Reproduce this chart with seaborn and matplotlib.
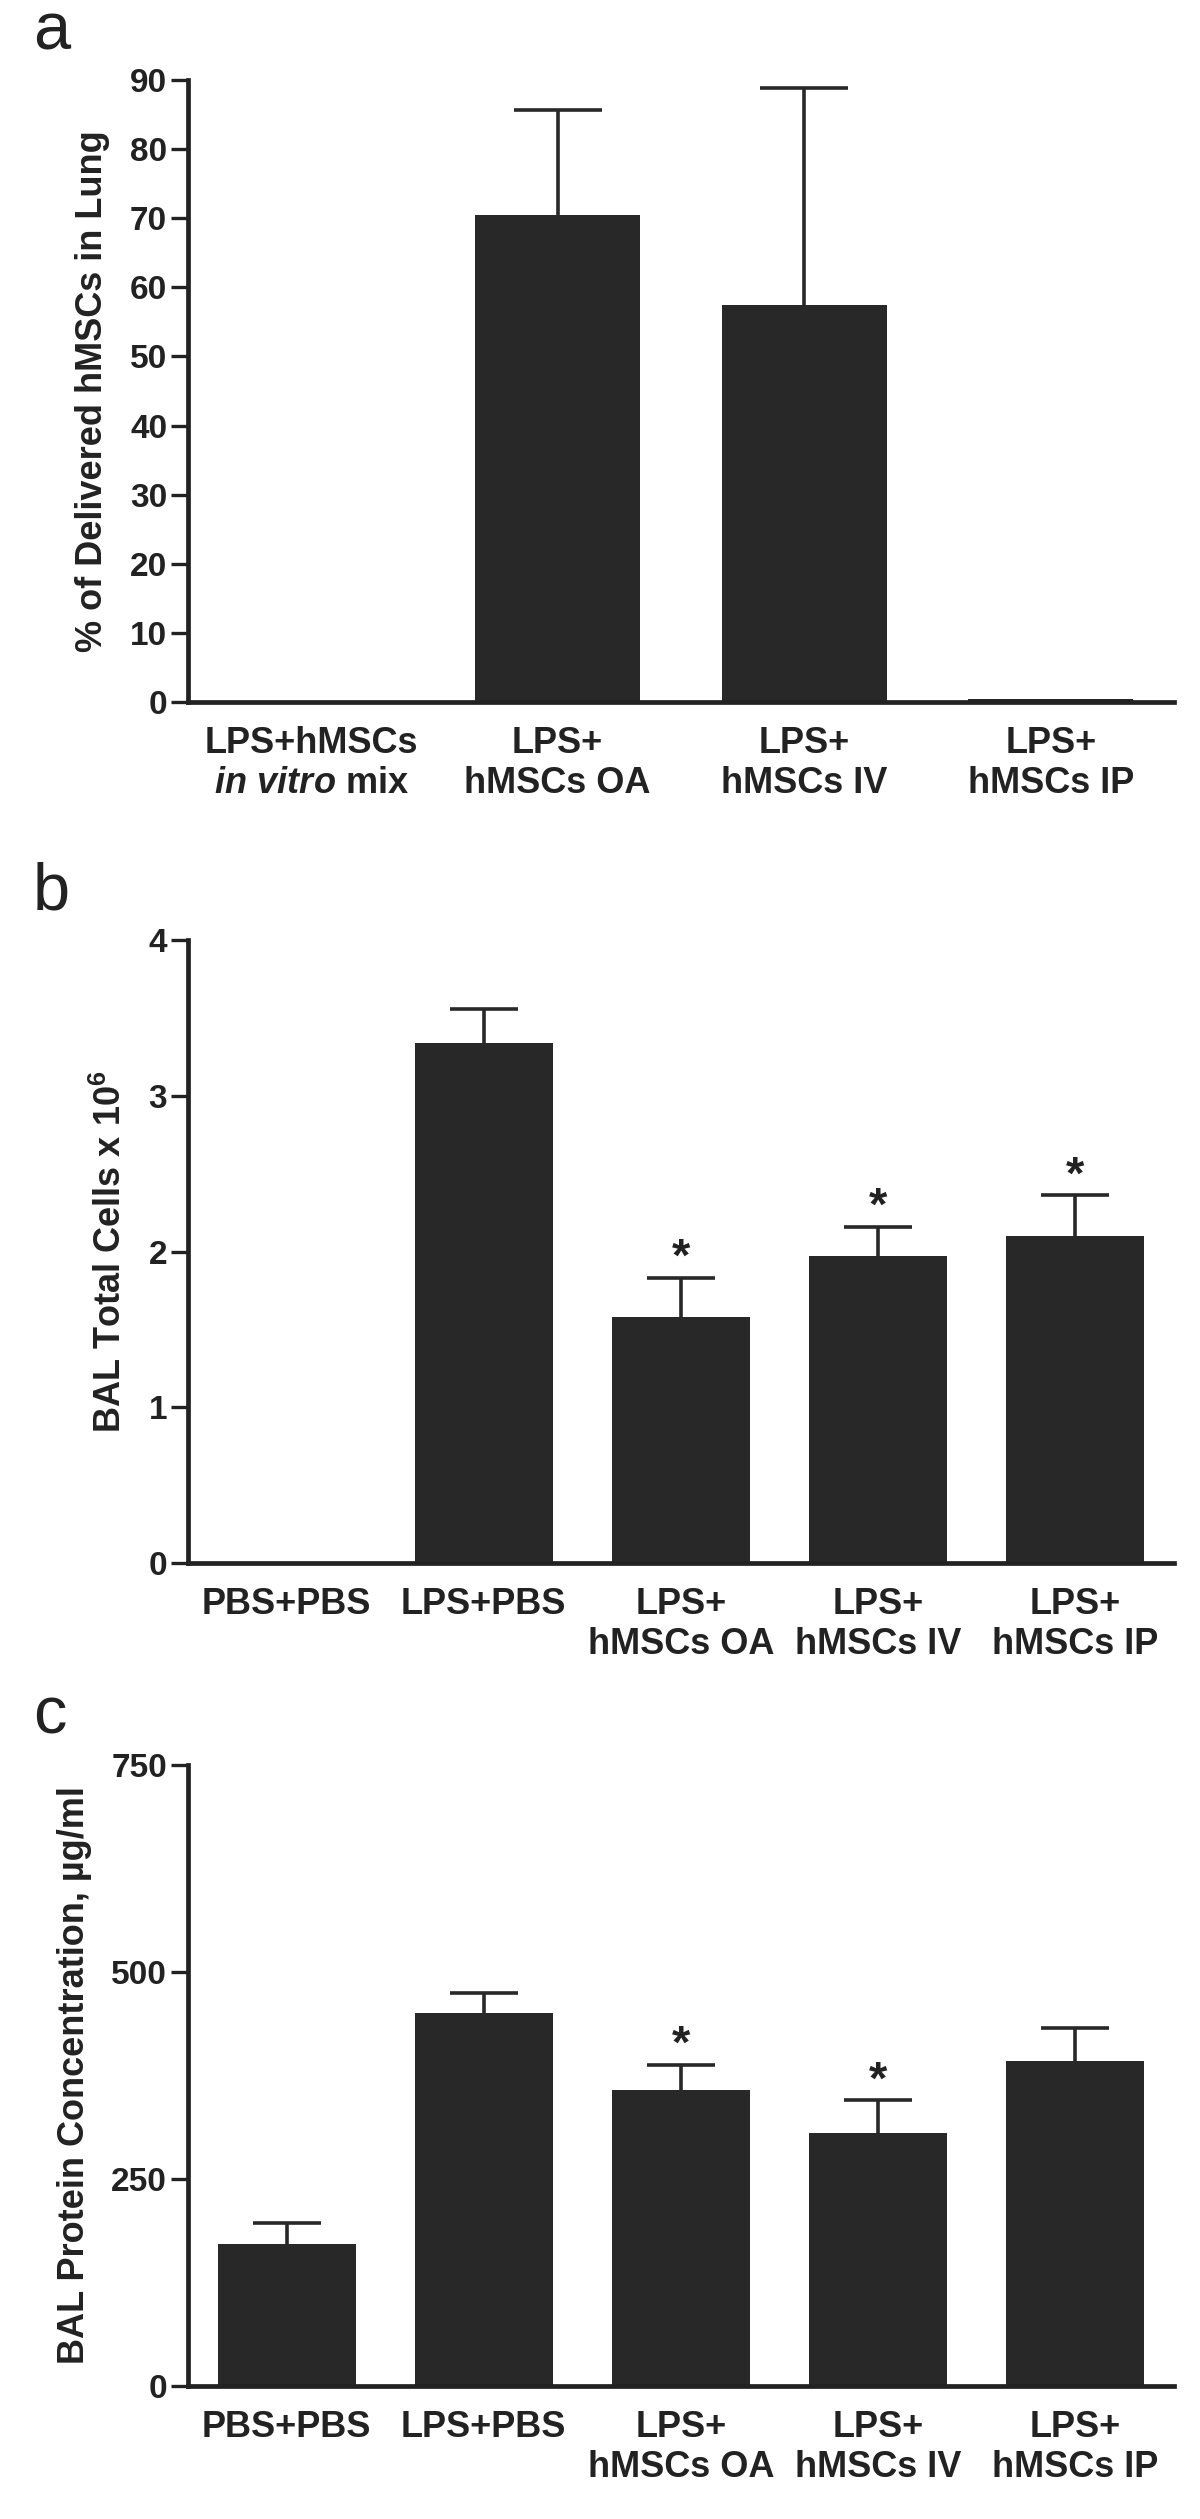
import numpy as np
import matplotlib
matplotlib.use('Agg')
import matplotlib.pyplot as plt
import seaborn as sns

sns.set_style('white')
plt.rcParams['font.family'] = ['Liberation Sans', 'DejaVu Sans']
plt.rcParams['mathtext.fontset'] = 'custom'
plt.rcParams['mathtext.rm'] = 'Liberation Sans:bold'
plt.rcParams['mathtext.it'] = 'Liberation Sans:italic:bold'
plt.rcParams['mathtext.bf'] = 'Liberation Sans:bold'

# panel a: % of delivered hMSCs in lung
a_labels = ['LPS+hMSCs\n$in\\ vitro$ mix', 'LPS+\nhMSCs OA', 'LPS+\nhMSCs IV', 'LPS+\nhMSCs IP']
a_means = [0, 70.4, 57.5, 0.4]
a_sem = [0, 15.3, 31.3, 0]
a_sig = [False, False, False, False]

# panel b: BAL total cells x 10^6
b_labels = ['PBS+PBS', 'LPS+PBS', 'LPS+\nhMSCs OA', 'LPS+\nhMSCs IV', 'LPS+\nhMSCs IP']
b_means = [0, 3.34, 1.58, 1.97, 2.10]
b_sem = [0, 0.22, 0.25, 0.19, 0.26]
b_sig = [False, False, True, True, True]

# panel c: BAL protein concentration
c_labels = ['PBS+PBS', 'LPS+PBS', 'LPS+\nhMSCs OA', 'LPS+\nhMSCs IV', 'LPS+\nhMSCs IP']
c_means = [172, 450, 358, 305, 392]
c_sem = [25, 25, 30, 40, 40]
c_sig = [False, False, True, True, False]

bar_color = '#282828'
ink = '#222222'


def bar_panel(fig, rect, letter, labels, means, sem, sig, ylabel, yticks, ylim,
              bar_width, capsize):
    ax = fig.add_axes(rect)
    n = len(labels)
    sns.barplot(x=labels, y=means, color=bar_color, saturation=1, width=bar_width,
                linewidth=0, ax=ax, zorder=2)
    idx = [i for i in range(n) if sem[i] > 0]
    _, caps, _ = ax.errorbar(idx, [means[i] for i in idx],
                             yerr=[np.zeros(len(idx)), [sem[i] for i in idx]],
                             fmt='none', ecolor=bar_color, elinewidth=2.6,
                             capsize=capsize, capthick=2.6, clip_on=False, zorder=1)
    # only the upper cap is wanted
    caps[0].set_visible(False)
    for i in range(n):
        if sig[i]:
            ax.annotate('*', xy=(i, means[i] + sem[i]), xytext=(0, 5),
                        textcoords='offset points', ha='center', va='baseline',
                        fontsize=34, fontweight='bold', color=ink)

    ax.set_xlim(-0.5, n - 0.5)
    ax.set_ylim(*ylim)
    ax.set_yticks(yticks)
    ax.set_ylabel(ylabel, fontsize=26, fontweight='bold', color=ink, labelpad=14)
    ax.set_xlabel('')
    sns.despine(ax=ax)
    for s in ['left', 'bottom']:
        ax.spines[s].set_linewidth(3.4)
        ax.spines[s].set_color(ink)
    ax.tick_params(axis='y', length=12, width=2.4, pad=3, labelsize=24,
                   colors=ink, direction='out', left=True)
    ax.tick_params(axis='x', length=0, pad=17, labelsize=26, colors=ink)
    for t in ax.get_xticklabels() + ax.get_yticklabels():
        t.set_fontweight('bold')
    fig.text(rect[0] - 155 / 1200, rect[1] + rect[3] + 31 / 2519, letter,
             fontsize=48, ha='left', va='baseline', color=ink)
    return ax


fig = plt.figure(figsize=(12, 25.19), dpi=100)
W, H = 1200, 2519
left = 188 / W
width = (1174 - 188) / W

bar_panel(fig, [left, 1 - 702 / H, width, 622 / H], 'a', a_labels, a_means, a_sem,
          a_sig, '% of Delivered hMSCs in Lung', np.arange(0, 91, 10), (0, 90),
          0.67, 32)
bar_panel(fig, [left, 1 - 1563 / H, width, 623 / H], 'b', b_labels, b_means, b_sem,
          b_sig, 'BAL Total Cells x 10$^{6}$', [0, 1, 2, 3, 4], (0, 4),
          0.7, 24.5)
bar_panel(fig, [left, 1 - 2386 / H, width, 621 / H], 'c', c_labels, c_means, c_sem,
          c_sig, 'BAL Protein Concentration, µg/ml', [0, 250, 500, 750], (0, 750),
          0.7, 24.5)

fig.savefig('out.png', dpi=100, facecolor='white')
